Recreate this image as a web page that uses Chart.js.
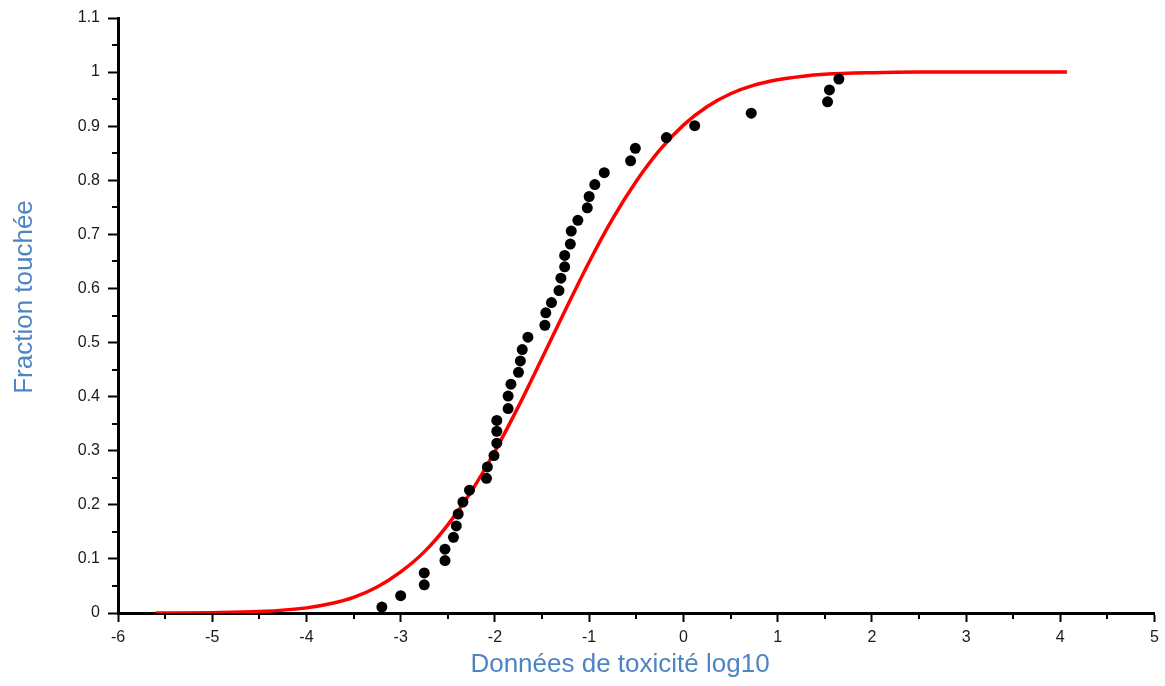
<!DOCTYPE html>
<html>
<head>
<meta charset="utf-8">
<script src="https://cdn.jsdelivr.net/npm/chart.js@4.4.1/dist/chart.umd.min.js"></script>
<style>
  html, body { margin: 0; padding: 0; background: #ffffff; }
  #wrap { position: relative; width: 1165px; height: 686px; }
</style>
</head>
<body>
<div id="wrap"><canvas id="c" width="1165" height="686"></canvas></div>
<script>
// Observed toxicity data (log10) and their plotted fraction
const obsX = [-3.20, -3.00, -2.75, -2.75, -2.53, -2.53, -2.44, -2.41, -2.39, -2.34,
              -2.27, -2.09, -2.08, -2.01, -1.98, -1.98, -1.98, -1.86, -1.86, -1.83,
              -1.75, -1.73, -1.71, -1.65, -1.47, -1.46, -1.40, -1.32, -1.30, -1.26,
              -1.26, -1.20, -1.19, -1.12, -1.02, -1.00, -0.94, -0.84, -0.56, -0.51,
              -0.18, 0.12, 0.72, 1.53, 1.55, 1.65];
const obsY = [0.011, 0.032, 0.052, 0.074, 0.097, 0.118, 0.140, 0.161, 0.183, 0.205,
              0.227, 0.249, 0.270, 0.291, 0.314, 0.336, 0.356, 0.378, 0.401, 0.423,
              0.445, 0.466, 0.487, 0.510, 0.532, 0.555, 0.574, 0.596, 0.619, 0.640,
              0.661, 0.682, 0.706, 0.726, 0.749, 0.770, 0.792, 0.814, 0.836, 0.859,
              0.879, 0.901, 0.924, 0.945, 0.967, 0.987];

// Fitted curve (red)
const fitX = [-5.6, -5.0, -4.5, -4.0, -3.75, -3.5, -3.25, -3.0, -2.75, -2.5,
              -2.25, -2.0, -1.75, -1.5, -1.25, -1.0, -0.75, -0.5, -0.25, 0.0,
              0.25, 0.5, 0.75, 1.0, 1.25, 1.5, 2.0, 2.5, 3.0, 4.07];
const fitY = [0.0001, 0.0006, 0.0026, 0.0095, 0.017, 0.029, 0.048, 0.076, 0.113, 0.163,
              0.225, 0.299, 0.382, 0.471, 0.561, 0.649, 0.729, 0.798, 0.856, 0.902,
              0.936, 0.960, 0.976, 0.986, 0.992, 0.996, 0.999, 1.0, 1.0, 1.0];

// Axis ticks
const xMajorTicks = [-6, -5, -4, -3, -2, -1, 0, 1, 2, 3, 4, 5];
const xMinorTicks = [-5.5, -4.5, -3.5, -2.5, -1.5, -0.5, 0.5, 1.5, 2.5, 3.5, 4.5];
const yMajorTicks = [0, 0.1, 0.2, 0.3, 0.4, 0.5, 0.6, 0.7, 0.8, 0.9, 1, 1.1];
const yMinorTicks = [0.05, 0.15, 0.25, 0.35, 0.45, 0.55, 0.65, 0.75, 0.85, 0.95, 1.05];

const xTitle = 'Données de toxicité log10';
const yTitle = 'Fraction touchée';

const TITLE_COLOR = '#4f84c4';
const TICK_COLOR = '#1a1a1a';
const FONT = "'Liberation Sans', Arial, sans-serif";

const minorTicksAndTitles = {
  id: 'minorTicksAndTitles',
  afterDraw(chart) {
    const ctx = chart.ctx;
    const xs = chart.scales.x, ys = chart.scales.y;
    const area = chart.chartArea;
    ctx.save();
    ctx.strokeStyle = '#000';
    ctx.lineWidth = 2;
    ctx.beginPath();
    xMinorTicks.forEach(v => {
      const px = Math.round(xs.getPixelForValue(v));
      ctx.moveTo(px, area.bottom);
      ctx.lineTo(px, area.bottom + 6);
    });
    yMinorTicks.forEach(v => {
      const py = Math.round(ys.getPixelForValue(v));
      ctx.moveTo(area.left, py);
      ctx.lineTo(area.left - 6, py);
    });
    ctx.stroke();

    ctx.fillStyle = TITLE_COLOR;
    ctx.font = '26px ' + FONT;
    ctx.textAlign = 'center';
    ctx.textBaseline = 'middle';
    ctx.fillText(xTitle, 620, 665);
    ctx.translate(25, 297);
    ctx.rotate(-Math.PI / 2);
    ctx.fillText(yTitle, 0, 0);
    ctx.restore();
  }
};

new Chart(document.getElementById('c'), {
  type: 'scatter',
  data: {
    datasets: [
      {
        label: 'Données',
        data: obsX.map((x, i) => ({ x: x, y: obsY[i] })),
        backgroundColor: '#000000',
        borderColor: '#000000',
        pointRadius: 5.5,
        pointHoverRadius: 5.5,
        borderWidth: 0,
        order: 1
      },
      {
        label: 'Ajustement',
        type: 'line',
        data: fitX.map((x, i) => ({ x: x, y: fitY[i] })),
        borderColor: '#ff0000',
        backgroundColor: '#ff0000',
        borderWidth: 3.5,
        pointRadius: 0,
        cubicInterpolationMode: 'monotone',
        fill: false,
        order: 2
      }
    ]
  },
  options: {
    responsive: false,
    animation: false,
    events: [],
    layout: { padding: { left: 0, top: 18, right: 7, bottom: 0 } },
    plugins: {
      legend: { display: false },
      tooltip: { enabled: false }
    },
    scales: {
      x: {
        type: 'linear',
        min: -6, max: 5,
        afterFit(scale) { scale.height = 73; },
        afterBuildTicks(scale) { scale.ticks = xMajorTicks.map(v => ({ value: v })); },
        ticks: {
          color: TICK_COLOR,
          font: { family: FONT, size: 16 },
          padding: 6,
          maxRotation: 0,
          autoSkip: false,
          callback: v => String(v)
        },
        grid: {
          drawOnChartArea: false,
          drawTicks: true,
          tickLength: 9,
          tickWidth: 2,
          tickColor: '#000'
        },
        border: { display: true, color: '#000', width: 3 }
      },
      y: {
        type: 'linear',
        min: 0, max: 1.1,
        afterFit(scale) { scale.width = 118; },
        afterBuildTicks(scale) { scale.ticks = yMajorTicks.map(v => ({ value: v })); },
        ticks: {
          color: TICK_COLOR,
          font: { family: FONT, size: 16 },
          padding: 8,
          autoSkip: false,
          callback: v => String(Math.round(v * 10) / 10)
        },
        grid: {
          drawOnChartArea: false,
          drawTicks: true,
          tickLength: 10,
          tickWidth: 2,
          tickColor: '#000'
        },
        border: { display: true, color: '#000', width: 3 }
      }
    }
  },
  plugins: [minorTicksAndTitles]
});
</script>
</body>
</html>
